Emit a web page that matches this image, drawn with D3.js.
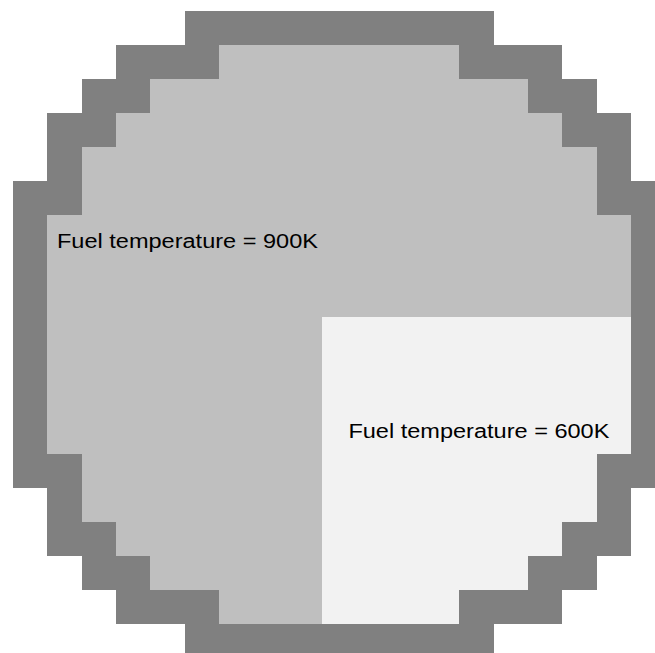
<!DOCTYPE html>
<html>
<head>
<meta charset="utf-8">
<script src="https://cdn.jsdelivr.net/npm/d3@7"></script>
<style>
  body { margin: 0; background: #fff; }
  .label { font-family: "Liberation Sans", Arial, sans-serif; font-size: 20px; fill: #000; }
</style>
</head>
<body>
<div class="chart"></div>
<script>
var svgWidth = 655;
var svgHeight = 653;

// material map, one string per row: "." none, G clad, F fuel 900K, C fuel 600K
var rows = [
  ".....GGGGGGGGG.....",
  "...GGGFFFFFFFGGG...",
  "..GGFFFFFFFFFFFGG..",
  ".GGFFFFFFFFFFFFFGG.",
  ".GFFFFFFFFFFFFFFFG.",
  "GGFFFFFFFFFFFFFFFGG",
  "GFFFFFFFFFFFFFFFFFG",
  "GFFFFFFFFFFFFFFFFFG",
  "GFFFFFFFFFFFFFFFFFG",
  "GFFFFFFFFCCCCCCCCCG",
  "GFFFFFFFFCCCCCCCCCG",
  "GFFFFFFFFCCCCCCCCCG",
  "GFFFFFFFFCCCCCCCCCG",
  "GGFFFFFFFCCCCCCCCGG",
  ".GFFFFFFFCCCCCCCCG.",
  ".GGFFFFFFCCCCCCCGG.",
  "..GGFFFFFCCCCCCGG..",
  "...GGGFFFCCCCGGG...",
  ".....GGGGGGGGG....."
];

var materials = ["G", "F", "C"];
var materialColors = ["#808080", "#bfbfbf", "#f2f2f2"];

var labelTexts = ["Fuel temperature = 900K", "Fuel temperature = 600K"];
var labelCol = [1.28, 9.77];
var labelRow = [6.95, 12.53];

var n = rows.length;

var svg = d3.select(".chart")
  .append("svg")
  .attr("width", svgWidth)
  .attr("height", svgHeight)
  .style("display", "block");

var x = d3.scaleLinear().domain([0, n]).range([13, 13 + n * 34.33]);
var y = d3.scaleLinear().domain([0, n]).range([11, 11 + n * 34.05]);

var color = d3.scaleOrdinal().domain(materials).range(materialColors);

// flatten the map into cells
var cells = [];
rows.forEach(function(row, j) {
  row.split("").forEach(function(m, i) {
    if (m !== ".") cells.push({ col: i, row: j, mat: m });
  });
});

svg.append("g")
  .attr("shape-rendering", "crispEdges")
  .selectAll("rect")
  .data(cells)
  .enter().append("rect")
    .attr("x", function(d) { return x(d.col); })
    .attr("y", function(d) { return y(d.row); })
    .attr("width", function(d) { return x(d.col + 1) - x(d.col); })
    .attr("height", function(d) { return y(d.row + 1) - y(d.row); })
    .attr("fill", function(d) { return color(d.mat); });

svg.selectAll(".label")
  .data(labelTexts)
  .enter().append("text")
    .attr("class", "label")
    .attr("x", function(d, i) { return x(labelCol[i]); })
    .attr("y", function(d, i) { return y(labelRow[i]); })
    .attr("textLength", 261)
    .attr("lengthAdjust", "spacingAndGlyphs")
    .text(function(d) { return d; });
</script>
</body>
</html>
